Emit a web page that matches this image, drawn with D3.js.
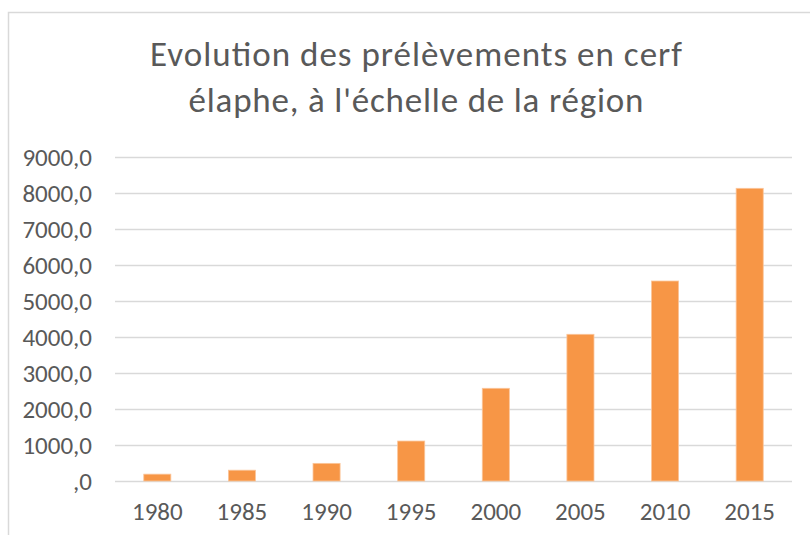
<!DOCTYPE html>
<html>
<head>
<meta charset="utf-8">
<script src="https://cdn.jsdelivr.net/npm/d3@7"></script>
<style>
  body { margin: 0; background: #ffffff; }
  text { font-family: Carlito, Calibri, Lato, sans-serif; fill: #595959; }
</style>
</head>
<body>
<div id="chart"></div>
<script>
const titleLines = ["Evolution des prélèvements en cerf", "élaphe, à l'échelle de la région"];
const titleWidths = [532, 455];
const years = ["1980", "1985", "1990", "1995", "2000", "2005", "2010", "2015"];
const values = [190, 300, 490, 1110, 2575, 4075, 5555, 8130];
const yTicks = [0, 1000, 2000, 3000, 4000, 5000, 6000, 7000, 8000, 9000];

const width = 810;
const height = 535;
const margin = { top: 157, right: 18, bottom: 54, left: 115 };

const svg = d3.select("#chart")
  .append("svg")
  .attr("width", width)
  .attr("height", height);

// cadre du graphique (coupé à droite et en bas)
svg.append("rect")
  .attr("x", 8.5)
  .attr("y", 12.5)
  .attr("width", 830)
  .attr("height", 540)
  .attr("fill", "white")
  .attr("stroke", "#d9d9d9")
  .attr("stroke-width", 1.5);

svg.append("g")
  .selectAll("text")
  .data(titleLines)
  .enter()
  .append("text")
  .attr("x", 416)
  .attr("y", (d, i) => 66 + i * 46)
  .attr("text-anchor", "middle")
  .attr("font-size", "35px")
  .attr("textLength", (d, i) => titleWidths[i])
  .attr("lengthAdjust", "spacing")
  .text(d => d);

const x = d3.scaleBand()
  .domain(years)
  .range([margin.left, width - margin.right])
  .paddingInner(0.68)
  .paddingOuter(0.34);

const y = d3.scaleLinear()
  .domain([0, 9000])
  .range([height - margin.bottom, margin.top]);

const fmt = v => v === 0 ? ",0" : v.toFixed(1).replace(".", ",");

// grille + étiquettes Y
const yAxis = svg.append("g")
  .attr("transform", `translate(${margin.left},0)`)
  .call(d3.axisLeft(y)
    .tickValues(yTicks)
    .tickSize(-(width - margin.left - margin.right))
    .tickPadding(23)
    .tickFormat(fmt));

yAxis.select(".domain").remove();
yAxis.selectAll(".tick line")
  .attr("stroke", "#d9d9d9")
  .attr("stroke-width", 1.5);
yAxis.selectAll(".tick text")
  .attr("font-size", "25px")
  .attr("fill", "#595959");

// barres
svg.append("g")
  .selectAll("rect")
  .data(values)
  .enter()
  .append("rect")
  .attr("x", (d, i) => x(years[i]))
  .attr("y", d => y(d))
  .attr("width", x.bandwidth())
  .attr("height", d => y(0) - y(d))
  .attr("fill", "#f79646")
  .attr("stroke", "#fbc59a")
  .attr("stroke-width", 0.8);

// étiquettes X
const xAxis = svg.append("g")
  .attr("transform", `translate(0,${height - margin.bottom})`)
  .call(d3.axisBottom(x).tickSize(0).tickPadding(21));

xAxis.select(".domain").remove();
xAxis.selectAll(".tick text")
  .attr("font-size", "25px")
  .attr("fill", "#595959");
</script>
</body>
</html>
